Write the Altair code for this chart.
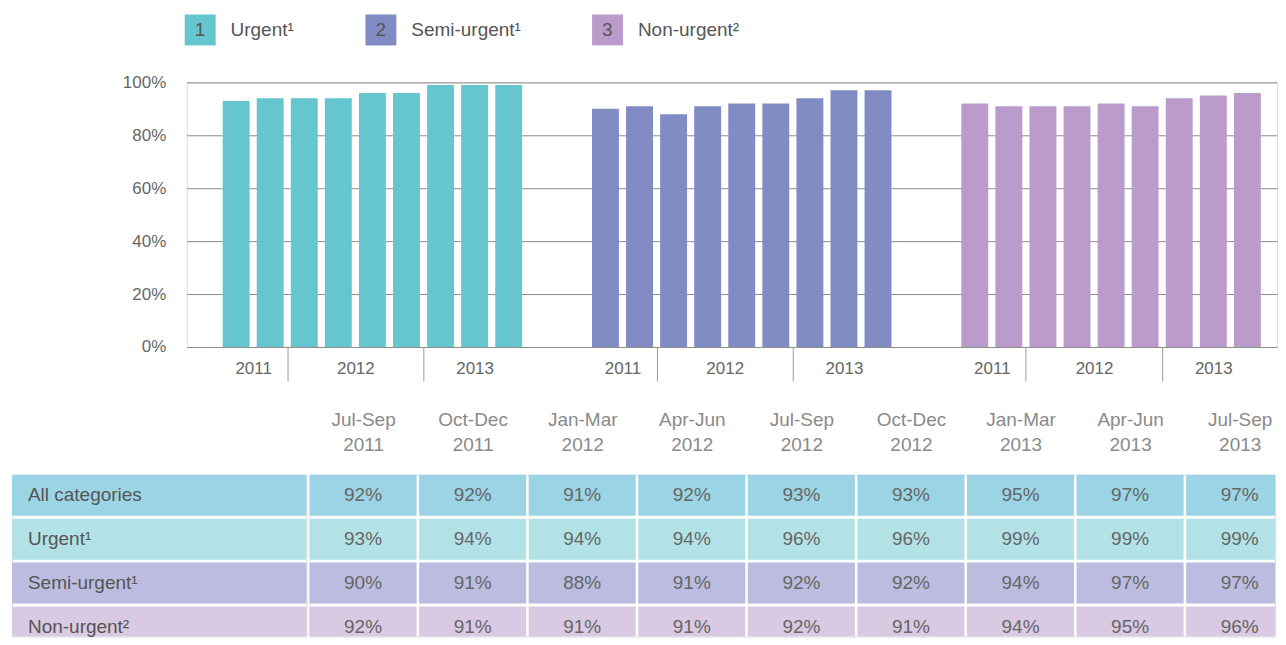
import json
import altair as alt
import pandas as pd

# ---------------- data ----------------
quarters = ["Jul-Sep 2011", "Oct-Dec 2011", "Jan-Mar 2012", "Apr-Jun 2012",
            "Jul-Sep 2012", "Oct-Dec 2012", "Jan-Mar 2013", "Apr-Jun 2013",
            "Jul-Sep 2013"]
categories = ["Urgent", "Semi-urgent", "Non-urgent"]
legend_labels = ["Urgent\u00b9", "Semi-urgent\u00b9", "Non-urgent\u00b2"]
legend_numbers = ["1", "2", "3"]
all_categories = [92, 92, 91, 92, 93, 93, 95, 97, 97]
urgent = [93, 94, 94, 94, 96, 96, 99, 99, 99]
semi_urgent = [90, 91, 88, 91, 92, 92, 94, 97, 97]
non_urgent = [92, 91, 91, 91, 92, 91, 94, 95, 96]
table_rows = ["All categories", "Urgent\u00b9", "Semi-urgent\u00b9", "Non-urgent\u00b2"]
y_ticks = [0, 20, 40, 60, 80, 100]

bar_colors = ["#66C6CF", "#818BC4", "#BB9BCB"]
row_colors = ["#9BD4E4", "#B3E2E6", "#BBBCDF", "#D9C9E2"]
TEXT = "#555555"

# ---------------- bar layout (slot units) ----------------
GROUP_STEP = 10.84
BAR_HALF = 0.395
X_DOMAIN = [-1.45, 30.55]

series = [urgent, semi_urgent, non_urgent]
bar_rows = []
for g, (cat, vals) in enumerate(zip(categories, series)):
    for i, (q, v) in enumerate(zip(quarters, vals)):
        pos = round(g * GROUP_STEP + i, 4)
        bar_rows.append(dict(cat=cat, quarter=q, year=q.split(" ")[1], value=v,
                             pos=pos, x0=round(pos - BAR_HALF, 4), x1=round(pos + BAR_HALF, 4)))
bars_df = pd.DataFrame(bar_rows)

centers, center_labels, dividers = [], [], []
for (cat, year), grp in bars_df.groupby(["cat", "year"], sort=False):
    centers.append(round(float(grp["pos"].mean()), 4))
    center_labels.append(year)
    if year != bars_df[bars_df.cat == cat]["year"].iloc[0]:
        dividers.append(round(float(grp["pos"].min()) - 0.5, 4))

C = json.dumps(centers)
L = json.dumps(center_labels)
D = json.dumps(dividers)
year_label_expr = f"indexof({C}, datum.value) >= 0 ? {L}[indexof({C}, datum.value)] : ''"

legend_text = [f"{n}\u2003\u2004{lab}" for n, lab in zip(legend_numbers, legend_labels)]
legend_expr = (json.dumps(legend_text, ensure_ascii=False) +
               f"[indexof({json.dumps(categories)}, datum.label)]")

bars = alt.Chart(bars_df).mark_rect().encode(
    x=alt.X("x0:Q", scale=alt.Scale(domain=X_DOMAIN, nice=False, zero=False),
            axis=alt.Axis(values=sorted(centers + dividers), labelExpr=year_label_expr,
                          tickSize=34, tickColor="#9a9a9a", tickWidth=1,
                          tickOpacity={"condition": {"test": f"indexof({D}, datum.value) >= 0",
                                                     "value": 1}, "value": 0},
                          domain=False, grid=False, labelPadding=-20, labelFontSize=17,
                          labelColor="#666666", labelFlush=False, labelOverlap=False,
                          title=None)),
    x2="x1:Q",
    y=alt.Y("value:Q", scale=alt.Scale(domain=[0, 100], nice=False),
            axis=alt.Axis(values=y_ticks, labelExpr="datum.value + '%'", grid=True,
                          gridColor="#8c8c8c", gridWidth=1, domain=False, ticks=False,
                          labelPadding=21, labelFontSize=17, labelColor="#666666",
                          minExtent=80, maxExtent=80, title=None)),
    y2=alt.datum(0),
    color=alt.Color("cat:N", scale=alt.Scale(domain=categories, range=bar_colors),
                    legend=alt.Legend(orient="none", legendX=173, legendY=-68,
                                      direction="horizontal", title=None,
                                      symbolType="square", symbolSize=961,
                                      symbolStrokeWidth=0, symbolOpacity=1,
                                      labelFontSize=19, labelColor=TEXT,
                                      labelOffset={"expr": "-21"}, labelLimit=400,
                                      columnPadding=71, labelExpr=legend_expr)),
).properties(width=1092, height=265)

# invisible spacer that lines the table's left edge up with the axis gutter
spacer = alt.Chart(pd.DataFrame({"s": [0]})).mark_text(text=" ", opacity=0).encode(
    x=alt.X("s:Q", axis=None), y=alt.Y("s:Q", axis=None)
).properties(width=93, height=265, view=alt.ViewBackground(stroke="transparent"))

top = alt.hconcat(spacer, bars, spacing=0).resolve_scale(x="independent", y="independent")

# ---------------- table layout (cell units) ----------------
COL_STEP = 109.75          # px per column
ROW_STEP = 44              # px per row
CELL_W = 0.977             # cell width as fraction of column step
CELL_H = 0.932             # cell height as fraction of row step
GRID_W, TABLE_H, LABEL_W = 967, 162, 295

cell_rows = []
for ri, (r, vals) in enumerate(zip(table_rows, [all_categories, urgent, semi_urgent, non_urgent])):
    for ci, (q, v) in enumerate(zip(quarters, vals)):
        cell_rows.append(dict(row=r, quarter=q, label=f"{v}%",
                              c0=ci, c1=round(ci + CELL_W, 4), cm=round(ci + CELL_W / 2, 4),
                              r0=ri, r1=round(ri + CELL_H, 4), rm=round(ri + CELL_H / 2, 4)))
cells_df = pd.DataFrame(cell_rows)
rows_df = cells_df.drop_duplicates("row")[["row", "r0", "r1", "rm"]]

col_centers = [round(i + CELL_W / 2, 4) for i in range(len(quarters))]
CC = json.dumps(col_centers)
QQ = json.dumps(quarters)
header_expr = f"split({QQ}[indexof({CC}, datum.value)], ' ')"

y_scale = alt.Scale(domain=[0, TABLE_H / ROW_STEP], reverse=True, clamp=True, nice=False, zero=False)
row_color = alt.Color("row:N", scale=alt.Scale(domain=table_rows, range=row_colors), legend=None)

label_base = alt.Chart(rows_df)
label_chart = alt.layer(
    label_base.mark_rect().encode(
        x=alt.datum(0, scale=alt.Scale(domain=[0, 1]), axis=None), x2=alt.datum(1),
        y=alt.Y("r0:Q", scale=y_scale, axis=None), y2="r1:Q", color=row_color),
    label_base.mark_text(align="left", dx=16, fontSize=19, color=TEXT).encode(
        x=alt.datum(0, scale=alt.Scale(domain=[0, 1]), axis=None),
        y=alt.Y("rm:Q", scale=y_scale, axis=None), text="row:N"),
).properties(width=LABEL_W, height=TABLE_H)

x_scale = alt.Scale(domain=[0, GRID_W / COL_STEP], clamp=True, nice=False, zero=False)
grid_base = alt.Chart(cells_df)
grid_chart = alt.layer(
    grid_base.mark_rect().encode(
        x=alt.X("c0:Q", scale=x_scale,
                axis=alt.Axis(orient="top", values=col_centers, labelExpr=header_expr,
                              ticks=False, domain=False, grid=False, labelFontSize=19,
                              labelColor="#8a8a8a", labelLineHeight=25, labelPadding=45,
                              labelFlush=False, labelOverlap=False, title=None)),
        x2="c1:Q",
        y=alt.Y("r0:Q", scale=y_scale, axis=None), y2="r1:Q", color=row_color),
    grid_base.mark_text(fontSize=19, color="#666666").encode(
        x=alt.X("cm:Q", scale=x_scale), y=alt.Y("rm:Q", scale=y_scale), text="label:N"),
).properties(width=GRID_W, height=TABLE_H)

table = alt.hconcat(label_chart, grid_chart, spacing=3, bounds="flush").resolve_scale(
    x="independent")

chart = alt.vconcat(top, table, spacing=28).resolve_scale(
    x="independent", y="independent", color="independent"
).properties(
    padding={"left": 3, "top": 6, "right": 0, "bottom": 0}
).configure_view(stroke="transparent", strokeWidth=0).configure(
    font="Liberation Sans", background="white")

chart.save("out.html", embed_options={"renderer": "svg", "actions": False})
